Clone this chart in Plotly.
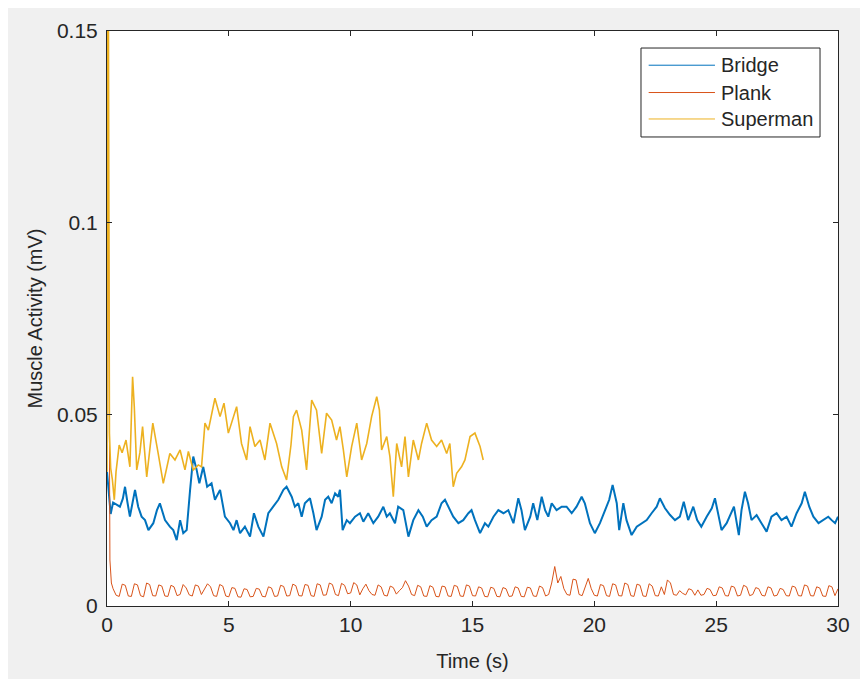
import numpy as np
import plotly.graph_objects as go

# ---------------- data ----------------
series_names = ["Bridge", "Plank", "Superman"]
series_colors = ["#0072BD", "#D95319", "#EDB120"]

bridge_t = [0.0, 0.08, 0.15, 0.25, 0.4, 0.53, 0.65, 0.74, 0.84, 0.94, 1.05, 1.15, 1.28, 1.42, 1.56, 1.7,
            1.9, 2.05, 2.17, 2.38, 2.58, 2.72, 2.86, 3.0, 3.13, 3.27, 3.41, 3.54, 3.68, 3.79, 3.95, 4.11,
            4.29, 4.43, 4.64, 4.84, 5.05, 5.19, 5.32, 5.46, 5.66, 5.87, 6.03, 6.21, 6.42, 6.62, 6.82, 7.03,
            7.24, 7.37, 7.58, 7.71, 7.85, 7.99, 8.12, 8.33, 8.47, 8.6, 8.81, 8.95, 9.08, 9.22, 9.36, 9.49,
            9.56, 9.67, 9.84, 9.97, 10.18, 10.38, 10.52, 10.72, 10.93, 11.13, 11.34, 11.48, 11.61, 11.82,
            11.95, 12.16, 12.37, 12.57, 12.78, 12.96, 13.12, 13.32, 13.53, 13.73, 13.87, 14.0, 14.21, 14.42,
            14.62, 14.83, 14.96, 15.1, 15.31, 15.51, 15.65, 15.86, 16.06, 16.27, 16.47, 16.68, 16.88, 17.01,
            17.15, 17.37, 17.49, 17.66, 17.84, 17.98, 18.11, 18.25, 18.45, 18.66, 18.86, 19.07, 19.27, 19.48,
            19.61, 19.82, 20.02, 20.23, 20.43, 20.61, 20.75, 20.92, 21.02, 21.19, 21.32, 21.53, 21.74, 21.94,
            22.15, 22.35, 22.56, 22.69, 22.9, 23.1, 23.31, 23.51, 23.67, 23.85, 24.06, 24.22, 24.39, 24.61,
            24.82, 24.95, 25.09, 25.22, 25.43, 25.56, 25.73, 25.93, 26.04, 26.18, 26.31, 26.45, 26.66, 26.86,
            27.07, 27.27, 27.48, 27.68, 27.89, 28.09, 28.3, 28.51, 28.64, 28.82, 28.99, 29.2, 29.4, 29.6,
            29.74, 29.88, 30.0]
bridge_v = [0.035, 0.030, 0.024, 0.027, 0.0265, 0.0259, 0.028, 0.0311, 0.027, 0.0233, 0.027, 0.0303, 0.0259,
            0.0233, 0.0224, 0.0198, 0.0216, 0.025, 0.0268, 0.0224, 0.0207, 0.0198, 0.0172, 0.0224, 0.019,
            0.0198, 0.0303, 0.039, 0.0355, 0.032, 0.0363, 0.0311, 0.032, 0.0277, 0.0303, 0.0233, 0.0216,
            0.0198, 0.0224, 0.019, 0.0207, 0.0181, 0.0242, 0.0207, 0.0181, 0.0242, 0.0259, 0.0277, 0.0303,
            0.0311, 0.0285, 0.0259, 0.0268, 0.0233, 0.0268, 0.0281, 0.0242, 0.0198, 0.0233, 0.0277, 0.0285,
            0.0268, 0.0294, 0.0285, 0.0303, 0.0198, 0.0224, 0.0216, 0.0233, 0.0242, 0.022, 0.0242, 0.0216,
            0.0233, 0.0259, 0.0233, 0.0242, 0.0216, 0.0259, 0.025, 0.0181, 0.0224, 0.025, 0.0233, 0.0207,
            0.0224, 0.0233, 0.0268, 0.0277, 0.0259, 0.0233, 0.0216, 0.0224, 0.0242, 0.025, 0.0224, 0.019,
            0.0216, 0.0207, 0.0233, 0.025, 0.0242, 0.025, 0.0216, 0.0281, 0.025, 0.0198, 0.0233, 0.0268,
            0.0224, 0.0285, 0.025, 0.0233, 0.0268, 0.025, 0.0259, 0.0259, 0.0242, 0.0259, 0.0285, 0.0268,
            0.0216, 0.019, 0.0216, 0.025, 0.0277, 0.0316, 0.0268, 0.0198, 0.0268, 0.0224, 0.0185, 0.0207,
            0.0216, 0.0224, 0.0242, 0.0259, 0.0281, 0.0255, 0.0238, 0.0224, 0.0233, 0.0272, 0.0224, 0.0259,
            0.0224, 0.0207, 0.0233, 0.0255, 0.0281, 0.0233, 0.0198, 0.0216, 0.0233, 0.0259, 0.0185, 0.025,
            0.0298, 0.0268, 0.0224, 0.0237, 0.0216, 0.0194, 0.0233, 0.0242, 0.0224, 0.0233, 0.0207, 0.0242,
            0.0268, 0.0298, 0.0259, 0.0233, 0.0216, 0.0224, 0.0233, 0.0224, 0.0216, 0.0233]

superman_t = [0.0, 0.04, 0.1, 0.15, 0.22, 0.3, 0.37, 0.5, 0.62, 0.78, 0.94, 1.05, 1.12, 1.22, 1.35, 1.46,
              1.63, 1.75, 1.88, 2.1, 2.31, 2.45, 2.58, 2.79, 3.0, 3.2, 3.34, 3.54, 3.75, 3.88, 4.02, 4.16,
              4.28, 4.43, 4.64, 4.8, 4.98, 5.12, 5.32, 5.52, 5.73, 5.87, 6.07, 6.28, 6.48, 6.69, 6.96, 7.17,
              7.37, 7.55, 7.65, 7.78, 7.99, 8.19, 8.4, 8.6, 8.81, 9.01, 9.22, 9.42, 9.56, 9.7, 9.84, 10.04,
              10.25, 10.45, 10.66, 10.86, 11.07, 11.18, 11.27, 11.48, 11.61, 11.75, 11.89, 12.09, 12.23,
              12.37, 12.57, 12.78, 12.91, 13.12, 13.32, 13.53, 13.73, 13.94, 14.07, 14.21, 14.35, 14.55,
              14.69, 14.9, 15.1, 15.31, 15.44]
superman_v = [0.035, 0.2, 0.045, 0.036, 0.033, 0.0277, 0.035, 0.042, 0.040, 0.0433, 0.0363, 0.0598, 0.052,
              0.0355, 0.040, 0.0468, 0.0337, 0.040, 0.0477, 0.0398, 0.032, 0.036, 0.0398, 0.0381, 0.0407,
              0.0355, 0.0403, 0.0355, 0.0368, 0.0363, 0.0477, 0.0459, 0.050, 0.0542, 0.0494, 0.0529, 0.0451,
              0.0477, 0.052, 0.0424, 0.0381, 0.0468, 0.0416, 0.0433, 0.0381, 0.0477, 0.0424, 0.0363, 0.0329,
              0.042, 0.0494, 0.0511, 0.0459, 0.0355, 0.0537, 0.0511, 0.0398, 0.0503, 0.0485, 0.0433, 0.0468,
              0.0407, 0.0337, 0.0416, 0.0477, 0.0381, 0.0424, 0.0494, 0.0546, 0.0511, 0.0407, 0.0442, 0.039,
              0.0285, 0.0424, 0.0363, 0.0442, 0.0337, 0.0433, 0.0381, 0.0424, 0.0477, 0.0433, 0.0416, 0.0433,
              0.0398, 0.0424, 0.0311, 0.0346, 0.0363, 0.0381, 0.0442, 0.0451, 0.0416, 0.0381]

plank_start_t = [0.0, 0.04, 0.08, 0.12, 0.18]
plank_start_v = [0.2, 0.12, 0.04, 0.012, 0.006]
plank_step = 0.125  # sampling interval (s) of the values below, beginning at t = 0.25
plank_v = [
    0.0045, 0.0028, 0.0025, 0.0057, 0.0054, 0.0026, 0.0025, 0.0058,
    0.0055, 0.0027, 0.0024, 0.0060, 0.0056, 0.0027, 0.0026, 0.0055,
    0.0052, 0.0026, 0.0025, 0.0054, 0.0050, 0.0027, 0.0030, 0.0056,
    0.0047, 0.0029, 0.0026, 0.0055, 0.0052, 0.0030, 0.0045, 0.0058,
    0.0050, 0.0027, 0.0025, 0.0056, 0.0052, 0.0026, 0.0024, 0.0048,
    0.0046, 0.0024, 0.0023, 0.0045, 0.0043, 0.0024, 0.0025, 0.0046,
    0.0044, 0.0025, 0.0024, 0.0050, 0.0047, 0.0025, 0.0026, 0.0054,
    0.0051, 0.0026, 0.0027, 0.0057, 0.0053, 0.0027, 0.0026, 0.0056,
    0.0054, 0.0027, 0.0025, 0.0058, 0.0055, 0.0028, 0.0029, 0.0060,
    0.0056, 0.0030, 0.0027, 0.0059, 0.0054, 0.0032, 0.0034, 0.0061,
    0.0055, 0.0029, 0.0045, 0.0057, 0.0040, 0.0030, 0.0028, 0.0055,
    0.0050, 0.0028, 0.0026, 0.0052, 0.0048, 0.0031, 0.0040, 0.0048,
    0.0066, 0.0052, 0.0030, 0.0027, 0.0054, 0.0050, 0.0026, 0.0025,
    0.0053, 0.0049, 0.0025, 0.0024, 0.0052, 0.0050, 0.0026, 0.0025,
    0.0054, 0.0051, 0.0026, 0.0025, 0.0055, 0.0052, 0.0027, 0.0026,
    0.0050, 0.0047, 0.0025, 0.0024, 0.0049, 0.0046, 0.0025, 0.0024,
    0.0048, 0.0045, 0.0025, 0.0026, 0.0050, 0.0047, 0.0025, 0.0024,
    0.0049, 0.0047, 0.0026, 0.0025, 0.0052, 0.0048, 0.0026, 0.0030,
    0.0060, 0.0103, 0.0060, 0.0077, 0.0045, 0.0030, 0.0028, 0.0070,
    0.0068, 0.0030, 0.0027, 0.0050, 0.0072, 0.0045, 0.0028, 0.0026,
    0.0056, 0.0053, 0.0027, 0.0025, 0.0058, 0.0055, 0.0027, 0.0026,
    0.0060, 0.0056, 0.0027, 0.0025, 0.0057, 0.0054, 0.0026, 0.0025,
    0.0058, 0.0052, 0.0027, 0.0026, 0.0050, 0.0030, 0.0068, 0.0060,
    0.0030, 0.0028, 0.0040, 0.0033, 0.0029, 0.0045, 0.0042, 0.0028,
    0.0042, 0.0028, 0.0030, 0.0046, 0.0043, 0.0027, 0.0028, 0.0050,
    0.0047, 0.0027, 0.0026, 0.0052, 0.0049, 0.0026, 0.0028, 0.0054,
    0.0050, 0.0027, 0.0030, 0.0048, 0.0045, 0.0028, 0.0026, 0.0050,
    0.0047, 0.0026, 0.0028, 0.0046, 0.0043, 0.0027, 0.0026, 0.0052,
    0.0049, 0.0027, 0.0026, 0.0055, 0.0052, 0.0027, 0.0026, 0.0050,
    0.0047, 0.0026, 0.0025, 0.0053, 0.0050, 0.0027, 0.0045,
]
plank_t = list(plank_start_t) + list(0.25 + plank_step * np.arange(len(plank_v)))
plank_all_v = list(plank_start_v) + plank_v

x_ticks = [0, 5, 10, 15, 20, 25, 30]
x_tick_labels = ["0", "5", "10", "15", "20", "25", "30"]
y_ticks = [0, 0.05, 0.1, 0.15]
y_tick_labels = ["0", "0.05", "0.1", "0.15"]
x_title = "Time (s)"
y_title = "Muscle Activity (mV)"

# ---------------- figure ----------------
FONT = "Liberation Sans, Arial, sans-serif"
TXT = "#262626"

fig = go.Figure()
xs = [bridge_t, plank_t, superman_t]
ys = [bridge_v, plank_all_v, superman_v]
widths = [2.0, 1.0, 1.6]
for name, col, x, y, w in zip(series_names, series_colors, xs, ys, widths):
    fig.add_trace(go.Scatter(x=x, y=y, mode="lines", name=name,
                             line=dict(color=col, width=w), showlegend=False))

axis_common = dict(showgrid=False, zeroline=False, showline=True, linecolor=TXT, linewidth=1,
                   ticks="inside", ticklen=5, tickcolor=TXT, mirror="ticks",
                   tickfont=dict(family=FONT, size=21, color=TXT))

fig.update_layout(
    width=868, height=679,
    margin=dict(l=99, r=38, t=23, b=81),
    paper_bgcolor="#f0f0f0", plot_bgcolor="white",
    font=dict(family=FONT, color=TXT),
    xaxis=dict(range=[0, 30], tickvals=x_ticks, ticktext=x_tick_labels,
               title=dict(text=x_title, font=dict(family=FONT, size=20, color=TXT), standoff=18),
               **axis_common),
    yaxis=dict(range=[0, 0.15], tickvals=y_ticks, ticktext=y_tick_labels, ticklabelstandoff=4,
               title=dict(text=y_title, font=dict(family=FONT, size=20, color=TXT), standoff=8),
               **axis_common),
)

# legend box (MATLAB style, long line samples)
lx0, lx1, ly0, ly1 = 0.7305, 0.9754, 0.8157, 0.9704
fig.add_shape(type="rect", xref="paper", yref="paper", x0=lx0, x1=lx1, y0=ly0, y1=ly1,
              fillcolor="white", line=dict(color=TXT, width=1), layer="above")
item_y = [0.9405, 0.8930, 0.8470]
for name, col, yy in zip(series_names, series_colors, item_y):
    fig.add_shape(type="line", xref="paper", yref="paper", x0=0.741, x1=0.8317, y0=yy, y1=yy,
                  line=dict(color=col, width=1), layer="above")
    fig.add_annotation(xref="paper", yref="paper", x=0.8375, y=yy, text=name, showarrow=False,
                       xanchor="left", yanchor="middle",
                       font=dict(family=FONT, size=20, color=TXT))

fig.write_html("out.html")
